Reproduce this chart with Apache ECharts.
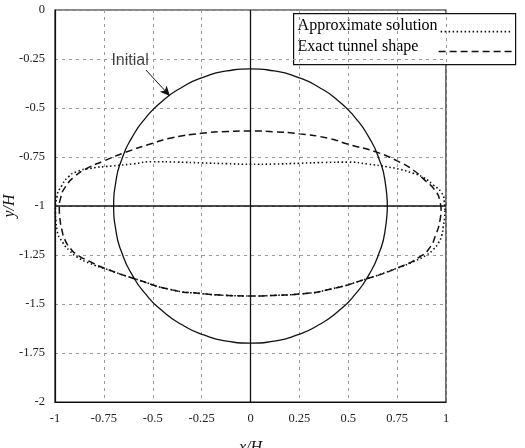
<!DOCTYPE html>
<html>
<head>
<meta charset="utf-8">
<script src="https://cdn.jsdelivr.net/npm/echarts@6/dist/echarts.min.js"></script>
<style>html,body{margin:0;padding:0;background:#fff}#c{width:525px;height:448px}</style>
</head>
<body>
<div id="c"></div>
<script>
// ---- data ----
const xTickLabels = ['-1','-0.75','-0.5','-0.25','0','0.25','0.5','0.75','1'];
const yTickLabels = ['-2','-1.75','-1.5','-1.25','-1','-0.75','-0.5','-0.25','0'];
const legendNames = ['Approximate solution','Exact tunnel shape'];

// Initial (circular) tunnel outline
const initialShape = [
  [0.7,-1],[0.689,-0.878],[0.658,-0.761],[0.606,-0.65],[0.536,-0.55],[0.45,-0.464],
  [0.35,-0.394],[0.239,-0.342],[0.122,-0.311],[0,-0.3],[-0.122,-0.311],[-0.239,-0.342],
  [-0.35,-0.394],[-0.45,-0.464],[-0.536,-0.55],[-0.606,-0.65],[-0.658,-0.761],[-0.689,-0.878],
  [-0.7,-1],[-0.689,-1.122],[-0.658,-1.239],[-0.606,-1.35],[-0.536,-1.45],[-0.45,-1.536],
  [-0.35,-1.606],[-0.239,-1.658],[-0.122,-1.689],[0,-1.7],[0.122,-1.689],[0.239,-1.658],
  [0.35,-1.606],[0.45,-1.536],[0.536,-1.45],[0.606,-1.35],[0.658,-1.239],[0.689,-1.122],[0.7,-1]
];

// Exact tunnel shape (dashed)
const exactShape = [
  [0.975,-1.02],[0.968,-0.97],[0.94,-0.915],[0.9,-0.876],[0.83,-0.815],[0.75,-0.77],
  [0.645,-0.725],[0.5,-0.685],[0.4,-0.655],[0.25,-0.632],[0.12,-0.621],[0,-0.617],
  [-0.12,-0.62],[-0.25,-0.629],[-0.4,-0.652],[-0.5,-0.68],[-0.642,-0.727],[-0.75,-0.77],
  [-0.84,-0.81],[-0.9,-0.85],[-0.945,-0.9],[-0.97,-0.955],[-0.978,-1.01],[-0.975,-1.06],
  [-0.965,-1.12],[-0.949,-1.173],[-0.92,-1.218],[-0.889,-1.247],[-0.821,-1.284],[-0.75,-1.316],
  [-0.59,-1.372],[-0.4,-1.428],[-0.25,-1.447],[-0.12,-1.456],[0,-1.459],[0.12,-1.456],
  [0.25,-1.449],[0.406,-1.425],[0.602,-1.369],[0.747,-1.318],[0.867,-1.259],[0.915,-1.215],
  [0.95,-1.14],[0.968,-1.08],[0.975,-1.02]
];

// Approximate solution (dotted)
const approxShape = [
  [0.995,-1.02],[0.991,-0.975],[0.976,-0.93],[0.935,-0.893],[0.885,-0.855],[0.833,-0.833],
  [0.76,-0.812],[0.697,-0.80],[0.6,-0.786],[0.5,-0.776],[0.375,-0.778],[0.25,-0.782],
  [0.12,-0.786],[0,-0.787],[-0.12,-0.784],[-0.25,-0.78],[-0.375,-0.776],[-0.5,-0.774],
  [-0.6,-0.785],[-0.71,-0.796],[-0.821,-0.808],[-0.889,-0.825],[-0.93,-0.85],[-0.965,-0.895],
  [-0.99,-0.952],[-0.998,-1.03],[-0.995,-1.08],[-0.99,-1.122],[-0.958,-1.19],[-0.925,-1.228],
  [-0.889,-1.259],[-0.821,-1.293],[-0.75,-1.318],[-0.59,-1.372],[-0.4,-1.428],[-0.25,-1.447],
  [-0.12,-1.456],[0,-1.459],[0.12,-1.456],[0.25,-1.449],[0.406,-1.425],[0.602,-1.369],
  [0.747,-1.318],[0.833,-1.284],[0.9,-1.25],[0.935,-1.222],[0.96,-1.19],[0.978,-1.15],
  [0.986,-1.105],[0.993,-1.06],[0.995,-1.02]
];

// reference lines through the tunnel centre
const verticalAxisLine = [[0,-2],[0,0]];
const horizontalAxisLine = [[-1,-1],[1,-1]];

// "Initial" annotation (data coordinates)
const initialLabelAt = [-0.616,-0.26];
const initialArrow = [[-0.535,-0.306],[-0.412,-0.439]];

// ---- chart ----
const serif = '"Liberation Serif","Times New Roman",serif';
const ink = '#111';
const chart = echarts.init(document.getElementById('c'), null, {renderer:'canvas'});
const gridLine = {show:true, lineStyle:{color:'#999', width:1, type:[3,4]}};
chart.setOption({
  backgroundColor:'#fff',
  animation:false,
  grid:{left:55, top:10, right:79, bottom:46, containLabel:false, outerBoundsMode:'none',
    show:true, borderColor:ink, borderWidth:1.2, backgroundColor:'transparent'},
  xAxis:{
    type:'value', min:-1, max:1, interval:0.25,
    axisLine:{show:true, onZero:false, lineStyle:{color:ink, width:1.2}},
    axisTick:{show:false},
    splitLine:gridLine,
    axisLabel:{margin:10, color:'#222', fontFamily:serif, fontSize:12.5,
      formatter:(v)=>xTickLabels[Math.round((v+1)/0.25)]},
    name:'x/H', nameLocation:'middle', nameGap:38, nameMoveOverlap:false,
    nameTextStyle:{fontFamily:serif, fontStyle:'italic', fontSize:16, color:ink}
  },
  yAxis:{
    type:'value', min:-2, max:0, interval:0.25,
    axisLine:{show:true, onZero:false, lineStyle:{color:ink, width:1.2}},
    axisTick:{show:false},
    splitLine:gridLine,
    axisLabel:{margin:10, color:'#222', fontFamily:serif, fontSize:12.5,
      formatter:(v)=>yTickLabels[Math.round((v+2)/0.25)]},
    name:'y/H', nameLocation:'middle', nameGap:37, nameMoveOverlap:false,
    nameTextStyle:{fontFamily:serif, fontStyle:'italic', fontSize:16, color:ink}
  },
  graphic:[
    {type:'group', left:293, top:13, z:100, children:[
      {type:'rect', shape:{x:0, y:0, width:222, height:51}, style:{fill:'#fff', stroke:ink, lineWidth:1.2}},
      {type:'text', x:4, y:12, style:{text:legendNames[0], font:'16px '+serif, fill:'#000', textVerticalAlign:'middle'}},
      {type:'text', x:4, y:33, style:{text:legendNames[1], font:'16px '+serif, fill:'#000', textVerticalAlign:'middle'}},
      {type:'line', shape:{x1:147, y1:18, x2:219, y2:18}, style:{stroke:ink, lineWidth:1.6, lineDash:[1.5,2.5]}},
      {type:'line', shape:{x1:145, y1:38, x2:219, y2:38}, style:{stroke:ink, lineWidth:1.5, lineDash:[7,4]}}
    ]}
  ],
  series:[
    {name:'Initial', type:'line', data:initialShape, smooth:0.6, symbol:'none',
      lineStyle:{color:ink, width:1.3}, z:3,
      markLine:{silent:true, symbol:['none','arrow'], symbolSize:[7,10],
        lineStyle:{color:ink, width:1, type:'solid'}, label:{show:false},
        data:[[{coord:initialArrow[0]},{coord:initialArrow[1]}]]}},
    {name:'Initial label', type:'scatter', data:[initialLabelAt], symbolSize:0,
      label:{show:true, position:'inside', formatter:'Initial', fontFamily:'"Liberation Sans",Arial,sans-serif', fontSize:16, color:ink}},
    {name:legendNames[1], type:'line', data:exactShape, smooth:0.6, symbol:'none',
      lineStyle:{color:ink, width:1.5, type:[7,4]}, z:3},
    {name:legendNames[0], type:'line', data:approxShape, smooth:0.6, symbol:'none',
      lineStyle:{color:ink, width:1.6, type:[1.5,2.5]}, z:3},
    {name:'x0', type:'line', data:verticalAxisLine, symbol:'none', lineStyle:{color:ink, width:1.3}, z:2},
    {name:'y-1', type:'line', data:horizontalAxisLine, symbol:'none', lineStyle:{color:ink, width:1.3}, z:2}
  ]
});
</script>
</body>
</html>
